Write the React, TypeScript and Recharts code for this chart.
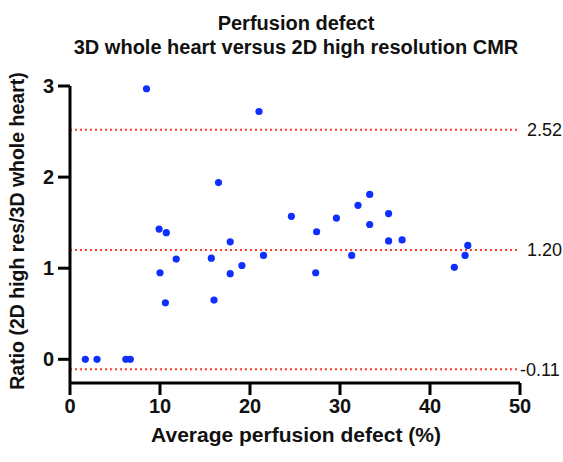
import { ReferenceLine, Scatter, ScatterChart, XAxis, YAxis } from "recharts";

const avgDefect = [
  8.5, 21.0, 16.5, 24.6, 9.9, 10.7, 17.8, 11.8, 15.7, 21.5, 19.1, 10.0, 17.8, 16.0, 10.6,
  1.7, 3.0, 6.2, 6.7, 27.4, 27.3, 29.6, 31.3, 32.0, 33.3, 33.3, 35.4, 35.4, 36.9, 42.7, 43.9, 44.2,
];
const ratio = [
  2.97, 2.72, 1.94, 1.57, 1.43, 1.39, 1.29, 1.1, 1.11, 1.14, 1.03, 0.95, 0.94, 0.65, 0.62,
  0, 0, 0, 0, 1.4, 0.95, 1.55, 1.14, 1.69, 1.81, 1.48, 1.6, 1.3, 1.31, 1.01, 1.14, 1.25,
];
const limits = [2.52, 1.2, -0.11];
const limitLabels = ["2.52", "1.20", "-0.11"];
const xTicks = [0, 10, 20, 30, 40, 50];
const yTicks = [0, 1, 2, 3];

const points = avgDefect.map((x, i) => ({ x, y: ratio[i] }));

const font = "'Liberation Sans', Arial, sans-serif";

const Dot = (props: any) => <circle cx={props.cx} cy={props.cy} r={3.6} fill="#0f2fff" />;

export default function App() {
  return (
    <div style={{ position: "absolute", left: 0, top: 0, width: 563, height: 462, background: "#fff", fontFamily: font }}>
      <div style={{ position: "absolute", left: 30, width: 532, top: 11, textAlign: "center", fontWeight: "bold", fontSize: 20, lineHeight: "24px", color: "#111" }}>
        <div>Perfusion defect</div>
        <div>3D whole heart versus 2D high resolution CMR</div>
      </div>
      <ScatterChart width={563} height={462} margin={{ top: 86, right: 43, bottom: 52, left: 20 }}>
        <XAxis
          type="number"
          dataKey="x"
          domain={[0, 50]}
          ticks={xTicks}
          tickSize={12}
          tickMargin={4}
          stroke="#000"
          strokeWidth={3}
          tick={{ fill: "#111", fontSize: 20, fontWeight: "bold", fontFamily: font }}
          height={27}
        />
        <YAxis
          type="number"
          dataKey="y"
          domain={[-0.26, 3]}
          ticks={yTicks}
          tickSize={12}
          tickMargin={4}
          stroke="#000"
          strokeWidth={3}
          width={50}
          tick={{ fill: "#111", fontSize: 20, fontWeight: "bold", fontFamily: font }}
        />
        {limits.map((v, i) => (
          <ReferenceLine
            key={v}
            y={v}
            stroke="#ff3b2a"
            strokeWidth={2}
            strokeDasharray="2 3"
            label={{ value: limitLabels[i], position: "right", offset: v < 0 ? 0 : 7, fill: "#111", fontSize: 18, fontFamily: font }}
          />
        ))}
        <Scatter data={points} shape={Dot} isAnimationActive={false} />
      </ScatterChart>
      <div style={{ position: "absolute", left: 96, width: 400, top: 423, textAlign: "center", fontWeight: "bold", fontSize: 21, color: "#111" }}>
        Average perfusion defect (%)
      </div>
      <div style={{ position: "absolute", left: 17, top: 231, transform: "translate(-50%, -50%) rotate(-90deg)", whiteSpace: "nowrap", fontWeight: "bold", fontSize: 19.5, color: "#111" }}>
        Ratio (2D high res/3D whole heart)
      </div>
    </div>
  );
}
